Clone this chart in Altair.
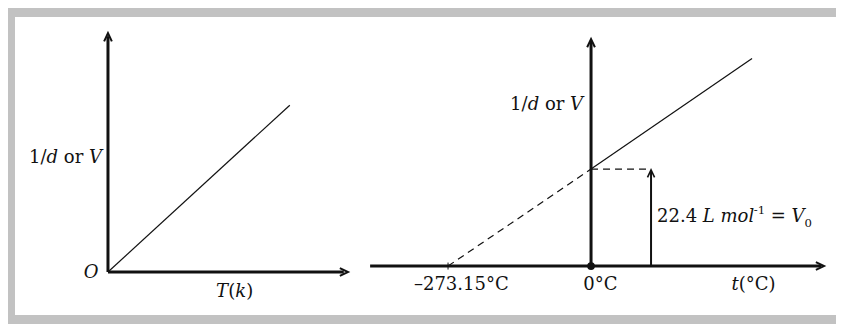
import altair as alt
import pandas as pd

FONT = "DejaVu Serif"
FS = 18
INK = "#111111"

# ---------------- left graph (schematic units T, V) ----------------
L_AXES_X1 = [0.0, 0.0]
L_AXES_Y1 = [0.0, 0.0]
L_AXES_X2 = [0.0, 3.93]
L_AXES_Y2 = [3.93, 0.0]
L_TIPS_X = [0.0, 4.0]
L_TIPS_Y = [3.98, 0.0]
L_TIPS_ANGLE = [0, 90]
L_LINE_X = [0.0, 3.03]
L_LINE_Y = [0.0, 2.78]

# ---------------- right graph (t in °C, V in L/mol) ----------------
R_AXES_X1 = [-422.0, 0.0]
R_AXES_Y1 = [0.0, 0.0]
R_AXES_X2 = [440.0, 0.0]
R_AXES_Y2 = [0.0, 52.0]
R_TIPS_X = [445.0, 0.0, 114.6]
R_TIPS_Y = [0.0, 52.4, 22.2]
R_TIPS_ANGLE = [90, 0, 0]
R_ABS_ZERO = -273.15
R_V0 = 22.4
R_V0_T = 114.6
R_SOLID_X = [0.0, 307.5]
R_SOLID_Y = [22.4, 47.9]
R_DASH_X1 = [R_ABS_ZERO, 0.0]
R_DASH_Y1 = [0.0, R_V0]
R_DASH_X2 = [0.0, R_V0_T]
R_DASH_Y2 = [R_V0, R_V0]

# shared frame: right graph's units; the left graph is placed into it
X_DOM = [-1100.3, 467.9]
Y_DOM = [-11.3, 57.5]
LX0, LXK = -922.7, 114.61   # left T -> shared x
LY0, LYK = -1.372, 13.853   # left V -> shared y


def lx(v):
    return [LX0 + LXK * a for a in v] if isinstance(v, list) else LX0 + LXK * v


def ly(v):
    return [LY0 + LYK * a for a in v] if isinstance(v, list) else LY0 + LYK * v


SX = alt.Scale(domain=X_DOM, nice=False, zero=False)
SY = alt.Scale(domain=Y_DOM, nice=False, zero=False)

# character widths of DejaVu Serif (em)
W = {" ": 0.318, "(": 0.390, ")": 0.390, "-": 0.338, ".": 0.318, "/": 0.337,
     "=": 0.838, "°": 0.500, "C": 0.734, "L": 0.637, "O": 0.787, "T": 0.684,
     "V": 0.722, "d": 0.640, "k": 0.600, "l": 0.320, "m": 0.948, "o": 0.602,
     "r": 0.478, "t": 0.402, "–": 0.500}
for dgt in "0123456789":
    W[dgt] = 0.636


def twidth(s, size):
    return sum(W.get(c, 0.6) for c in s) * size


def rich_label(x, y, pieces, align="left", dx=0.0, dy=0.0, size=FS):
    sizes = [size * 0.65 if kind else size for _, _, kind in pieces]
    widths = [twidth(p[0], s) for p, s in zip(pieces, sizes)]
    total = sum(widths)
    if align == "right":
        off = dx - total
    elif align == "center":
        off = dx - total / 2
    else:
        off = dx
    layers = []
    for (text, style, kind), fs, w in zip(pieces, sizes, widths):
        shift = dy
        if kind == "sup":
            shift += -size * 0.38
        elif kind == "sub":
            shift += size * 0.30
        core = text.strip(" ")
        lead = len(text) - len(text.lstrip(" "))
        if core:
            layers.append(
                alt.Chart().mark_text(align="left", baseline="middle",
                                      dx=off + lead * W[" "] * fs, dy=shift,
                                      font=FONT, fontSize=fs, fontStyle=style, color=INK)
                .encode(x=alt.XDatum(x, type="quantitative", scale=SX, axis=None),
                        y=alt.YDatum(y, type="quantitative", scale=SY, axis=None),
                        text=alt.value(text.strip(" ")))
            )
        off += w
    return layers


ARROW = "M-0.5,1.05 L0,0 L0.5,1.05"


def rules(df, sw, dash=None):
    props = dict(color=INK, strokeWidth=sw)
    if dash:
        props["strokeDash"] = dash
    return alt.Chart(df).mark_rule(**props).encode(
        x=alt.X("x1:Q", scale=SX, axis=None), y=alt.Y("y1:Q", scale=SY, axis=None),
        x2="x2:Q", y2="y2:Q")


def line(df, sw):
    return alt.Chart(df).mark_line(color=INK, strokeWidth=sw).encode(
        x=alt.X("x:Q", scale=SX, axis=None), y=alt.Y("y:Q", scale=SY, axis=None))


def tips(df, sw, size):
    return alt.Chart(df).mark_point(shape=ARROW, filled=False, stroke=INK, strokeWidth=sw,
                                    size=size, opacity=1, strokeJoin="miter").encode(
        x=alt.X("x:Q", scale=SX, axis=None), y=alt.Y("y:Q", scale=SY, axis=None),
        angle=alt.Angle("angle:Q", scale=None))


layers = []

# ---------- left graph ----------
layers.append(rules(pd.DataFrame({"x1": lx(L_AXES_X1), "y1": ly(L_AXES_Y1),
                                  "x2": lx(L_AXES_X2), "y2": ly(L_AXES_Y2)}), 3))
layers.append(line(pd.DataFrame({"x": lx(L_LINE_X), "y": ly(L_LINE_Y)}), 1.2))
layers.append(tips(pd.DataFrame({"x": lx(L_TIPS_X), "y": ly(L_TIPS_Y),
                                 "angle": L_TIPS_ANGLE}), 2, 240))

# ---------- right graph ----------
layers.append(alt.Chart(pd.DataFrame({"x": [R_ABS_ZERO], "y": [0.0]}))
              .mark_point(shape="M0,-1 L0,1", filled=False, stroke=INK, strokeWidth=1,
                          size=49, opacity=1)
              .encode(x=alt.X("x:Q", scale=SX, axis=None), y=alt.Y("y:Q", scale=SY, axis=None)))
layers.append(rules(pd.DataFrame({"x1": R_AXES_X1, "y1": R_AXES_Y1,
                                  "x2": R_AXES_X2, "y2": R_AXES_Y2}), 3))
layers.append(rules(pd.DataFrame({"x1": [R_V0_T], "y1": [0.0],
                                  "x2": [R_V0_T], "y2": [22.0]}), 2))
layers.append(rules(pd.DataFrame({"x1": R_DASH_X1, "y1": R_DASH_Y1,
                                  "x2": R_DASH_X2, "y2": R_DASH_Y2}), 1.2, [7, 5]))
layers.append(line(pd.DataFrame({"x": R_SOLID_X, "y": R_SOLID_Y}), 1.2))
layers.append(tips(pd.DataFrame({"x": R_TIPS_X[:2], "y": R_TIPS_Y[:2],
                                 "angle": R_TIPS_ANGLE[:2]}), 2, 240))
layers.append(tips(pd.DataFrame({"x": R_TIPS_X[2:], "y": R_TIPS_Y[2:],
                                 "angle": R_TIPS_ANGLE[2:]}), 1.6, 200))
layers.append(alt.Chart(pd.DataFrame({"x": [0.0], "y": [0.0]}))
              .mark_circle(color=INK, size=60, opacity=1)
              .encode(x=alt.X("x:Q", scale=SX, axis=None), y=alt.Y("y:Q", scale=SY, axis=None)))

# ---------- labels ----------
LABELS = [
    dict(x=lx(0.0), y=ly(1.9), align="right", dx=-6,
         pieces=[("1/", "normal", ""), ("d", "italic", ""), (" or ", "normal", ""), ("V", "italic", "")]),
    dict(x=lx(0.0), y=ly(-0.02), align="right", dx=-10, pieces=[("O", "italic", "")]),
    dict(x=lx(2.11), y=ly(-0.33), align="center", dx=0,
         pieces=[("T", "italic", ""), ("(", "normal", ""), ("k", "italic", ""), (")", "normal", "")]),
    dict(x=0.0, y=37.2, align="right", dx=-8,
         pieces=[("1/", "normal", ""), ("d", "italic", ""), (" or ", "normal", ""), ("V", "italic", "")]),
    dict(x=R_ABS_ZERO, y=-4.4, align="center", dx=13, pieces=[("–273.15°C", "normal", "")]),
    dict(x=0.0, y=-4.4, align="center", dx=9, pieces=[("0°C", "normal", "")]),
    dict(x=310.0, y=-4.4, align="center", dx=0,
         pieces=[("t", "italic", ""), ("(°C)", "normal", "")]),
    dict(x=R_V0_T, y=11.3, align="left", dx=6,
         pieces=[("22.4 ", "normal", ""), ("L mol", "italic", ""), ("-1", "normal", "sup"),
                 (" = ", "normal", ""), ("V", "italic", ""), ("0", "normal", "sub")]),
]
for lab in LABELS:
    layers.extend(rich_label(lab["x"], lab["y"], lab["pieces"], align=lab["align"], dx=lab["dx"]))

chart = (
    alt.layer(*layers)
    .properties(width=821, height=298, background="#c2c2c2",
                padding={"left": 7, "top": 9, "right": 0, "bottom": 9})
    .configure_view(fill="white", stroke="transparent", strokeWidth=0)
)

chart.save("out.html", embed_options={"renderer": "svg", "actions": False})
